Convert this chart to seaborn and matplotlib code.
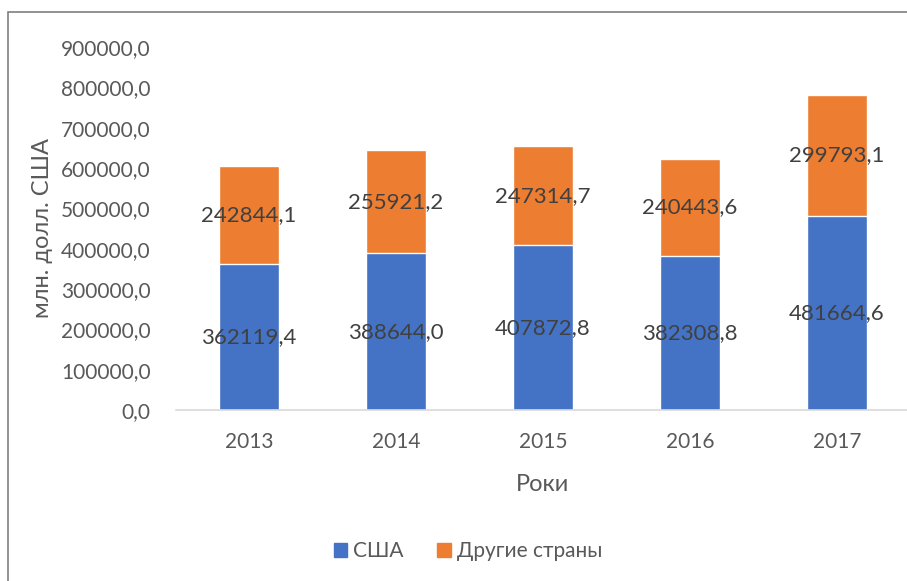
import matplotlib
matplotlib.use("Agg")
import matplotlib.pyplot as plt
import matplotlib.patches as mpatches
from matplotlib.ticker import FuncFormatter
import seaborn as sns
import pandas as pd

# chart data
years = ['2013', '2014', '2015', '2016', '2017']
usa = [362119.4, 388644.0, 407872.8, 382308.8, 481664.6]
other = [242844.1, 255921.2, 247314.7, 240443.6, 299793.1]
series_names = ['США', 'Другие страны']
y_ticks = [0, 100000, 200000, 300000, 400000, 500000, 600000, 700000, 800000, 900000]

BLUE = '#4472C4'
ORANGE = '#ED7D31'
GRAY = '#595959'

sns.set_style('white')
plt.rcParams['font.family'] = ['Lato', 'DejaVu Sans']


def fmt(v):
    return f"{v:.1f}".replace('.', ',')


df = pd.DataFrame({'year': years, 'usa': usa, 'other': other})
df['total'] = df['usa'] + df['other']

fig = plt.figure(figsize=(9.07, 5.81), dpi=100)
ax = fig.add_axes([175.5 / 907, (581 - 410) / 581, 735 / 907, 363 / 581])

# stacked: total in orange first, USA in blue over it
sns.barplot(data=df, x='year', y='total', color=ORANGE, width=0.41, saturation=1, ax=ax)
sns.barplot(data=df, x='year', y='usa', color=BLUE, width=0.41, saturation=1, ax=ax)

for i, row in df.iterrows():
    ax.text(i, row['usa'] / 2, fmt(row['usa']), ha='center', va='center',
            fontsize=16, color='#404040')
    ax.text(i, row['usa'] + row['other'] / 2, fmt(row['other']), ha='center', va='center',
            fontsize=16, color='#404040')

ax.set_ylim(0, 900000)
ax.set_xlim(-0.5, 4.5)
ax.set_yticks(y_ticks)
ax.yaxis.set_major_formatter(FuncFormatter(lambda v, p: fmt(v)))
ax.tick_params(axis='y', length=0, pad=18, labelsize=15, labelcolor=GRAY)
ax.tick_params(axis='x', length=0, pad=16, labelsize=15, labelcolor=GRAY)

for s in ['top', 'right', 'left']:
    ax.spines[s].set_visible(False)
ax.spines['bottom'].set_color('#D9D9D9')
ax.spines['bottom'].set_linewidth(1.2)

ax.set_xlabel('Роки', fontsize=17, color=GRAY, labelpad=16)
ax.set_ylabel('млн. долл. США', fontsize=17, color=GRAY)
ax.yaxis.set_label_coords(-122 / 735, 0.5)

handles = [mpatches.Patch(color=BLUE, label=series_names[0]),
           mpatches.Patch(color=ORANGE, label=series_names[1])]
fig.legend(handles=handles, loc='center', bbox_to_anchor=(468 / 907, 1 - 551 / 581),
           ncol=2, frameon=False, fontsize=15, labelcolor=GRAY,
           handlelength=0.65, handleheight=0.65, handletextpad=0.3, columnspacing=1.6)

# outer frame of the chart area
fig.add_artist(mpatches.Rectangle((8 / 907, -0.01), 1.0, 1 - 12 / 581 + 0.01,
                                  transform=fig.transFigure, fill=False,
                                  edgecolor='#7F7F7F', linewidth=1.2))

fig.savefig('out.png', dpi=100)
